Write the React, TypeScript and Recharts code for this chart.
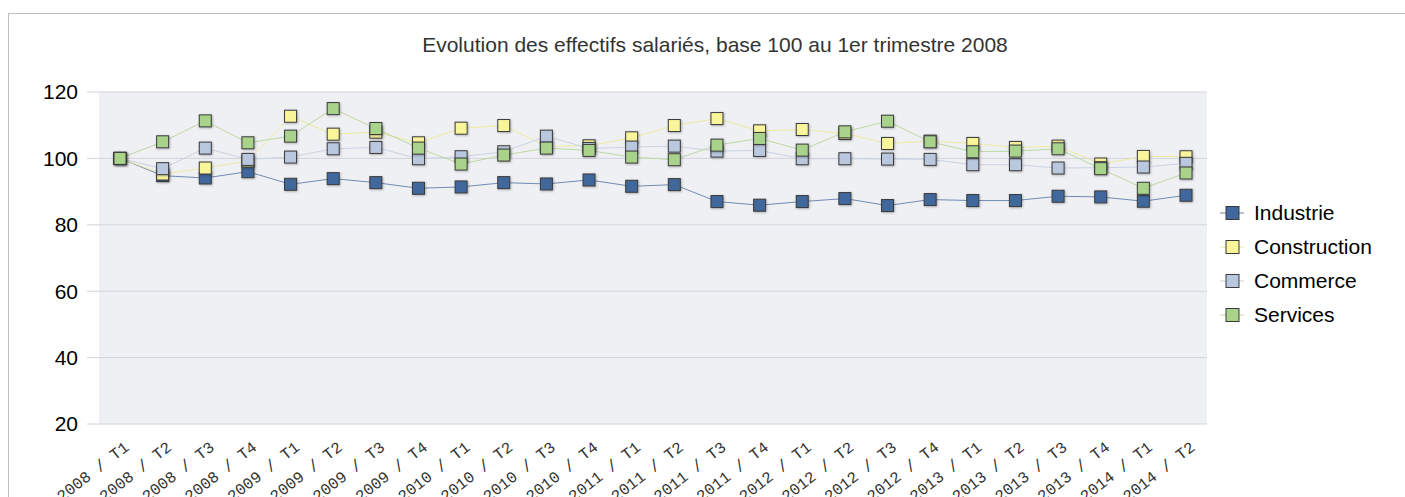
import React from 'react';
import { LineChart, Line, XAxis, YAxis, CartesianGrid, Legend } from 'recharts';

const years = ['2008','2008','2008','2008','2009','2009','2009','2009','2010','2010','2010','2010','2011','2011','2011','2011','2012','2012','2012','2012','2013','2013','2013','2013','2014','2014'];
const quarters = ['T1','T2','T3','T4','T1','T2','T3','T4','T1','T2','T3','T4','T1','T2','T3','T4','T1','T2','T3','T4','T1','T2','T3','T4','T1','T2'];

const industrie = [100, 94.8, 94.1, 96.0, 92.2, 93.9, 92.7, 91.0, 91.4, 92.7, 92.3, 93.5, 91.6, 92.1, 87.0, 85.9, 87.0, 87.9, 85.8, 87.6, 87.3, 87.3, 88.6, 88.4, 87.1, 88.9];
const construction = [100, 95.3, 97.1, 99.2, 112.7, 107.3, 107.9, 104.7, 109.1, 109.9, 103.7, 103.8, 106.2, 109.9, 112.0, 108.3, 108.7, 107.5, 104.5, 105.2, 104.5, 103.3, 103.7, 98.3, 100.6, 100.5];
const commerce = [100, 96.9, 103.1, 99.7, 100.4, 102.9, 103.3, 99.9, 100.5, 102.0, 106.7, 103.0, 103.4, 103.7, 102.2, 102.4, 99.9, 99.9, 99.8, 99.7, 98.1, 98.1, 97.1, 97.2, 97.4, 98.5];
const services = [100, 105.0, 111.3, 104.7, 106.7, 115.0, 109.0, 103.1, 98.3, 101.0, 103.1, 102.4, 100.4, 99.6, 104.0, 106.0, 102.5, 108.0, 111.2, 105.0, 102.0, 102.2, 102.9, 96.9, 91.0, 95.6];

const yTicks = [20, 40, 60, 80, 100, 120];
const title = 'Evolution des effectifs salariés, base 100 au 1er trimestre 2008';

const seriesDefs = [
  { key: 'Industrie', color: '#41679c', line: '#6f8bb4' },
  { key: 'Construction', color: '#f8f59b', line: '#eeeaa0' },
  { key: 'Commerce', color: '#b9c8de', line: '#c8d3e4' },
  { key: 'Services', color: '#a9d38b', line: '#bcd9a2' },
];

const data = years.map((y, i) => ({
  label: `${y} / ${quarters[i]}`,
  Industrie: industrie[i],
  Construction: construction[i],
  Commerce: commerce[i],
  Services: services[i],
}));

const FONT = '"Liberation Sans", Arial, sans-serif';

const makeDot = (fill: string) => (props: any) => {
  const { cx, cy, index } = props;
  if (cx == null || cy == null) return <g key={index} />;
  return (
    <rect
      key={index}
      x={cx - 6}
      y={cy - 6}
      width={12}
      height={12}
      fill={fill}
      stroke="#3a3a3a"
      strokeWidth={1}
      filter="url(#mshadow)"
    />
  );
};

const XTick = (props: any) => {
  const { x, y, payload } = props;
  return (
    <g transform={`translate(${x + 10},${y + 25})`}>
      <text
        textAnchor="end"
        transform="rotate(-38)"
        fontFamily='"Liberation Mono", monospace'
        fontSize={16}
        fill="#333"
      >
        {payload.value}
      </text>
    </g>
  );
};

const LegendContent = () => (
  <div style={{ fontFamily: FONT, fontSize: 21, color: '#000' }}>
    {seriesDefs.map((s) => (
      <div key={s.key} style={{ display: 'flex', alignItems: 'center', height: 34 }}>
        <svg width={28} height={16} style={{ marginRight: 8 }}>
          <line x1={2} y1={8} x2={26} y2={8} stroke={s.line} strokeWidth={1} />
          <rect x={8} y={1.5} width={13} height={13} fill={s.color} stroke="#3a3a3a" strokeWidth={1} />
        </svg>
        <span>{s.key}</span>
      </div>
    ))}
  </div>
);

export default function App() {
  return (
    <div style={{ position: 'absolute', left: 0, top: 0, width: 1405, height: 497, background: '#fff', overflow: 'hidden' }}>
      <div style={{ position: 'absolute', left: 8, top: 13, width: 1420, height: 520, border: '1px solid #bdbdbd', boxSizing: 'border-box' }} />
      <div style={{ position: 'absolute', left: 0, top: 0 }}>
        <LineChart width={1405} height={497} data={data} margin={{ top: 92, right: 198, bottom: 0, left: 0 }}>
          <defs>
            <filter id="mshadow" x="-50%" y="-50%" width="200%" height="200%">
              <feDropShadow dx={0.8} dy={0.8} stdDeviation={0.8} floodColor="#000" floodOpacity={0.3} />
            </filter>
          </defs>
          <text x={715} y={52} textAnchor="middle" fontFamily={FONT} fontSize={21} fill="#333">{title}</text>
          <CartesianGrid vertical={false} stroke="#d3d4dc" fill="#eff0f4" />
          <XAxis
            dataKey="label"
            interval={0}
            height={73}
            axisLine={false}
            tickLine={false}
            tickSize={0}
            tickMargin={0}
            padding={{ left: 21, right: 21 }}
            tick={<XTick />}
          />
          <YAxis
            width={99}
            domain={[20, 120]}
            ticks={yTicks}
            axisLine={false}
            tickLine={{ stroke: '#d3d4dc' }}
            tickSize={12}
            tickMargin={9}
            tick={{ fontFamily: FONT, fontSize: 21, fill: '#000' }}
          />
          <Legend
            layout="vertical"
            align="center"
            verticalAlign="middle"
            wrapperStyle={{ left: 1218, top: 196, width: 180, height: 140 }}
            content={<LegendContent />}
          />
          {seriesDefs.map((s) => (
            <Line
              key={s.key}
              dataKey={s.key}
              stroke={s.line}
              strokeWidth={1}
              dot={makeDot(s.color)}
              activeDot={false}
              isAnimationActive={false}
              type="linear"
            />
          ))}
        </LineChart>
      </div>
    </div>
  );
}
